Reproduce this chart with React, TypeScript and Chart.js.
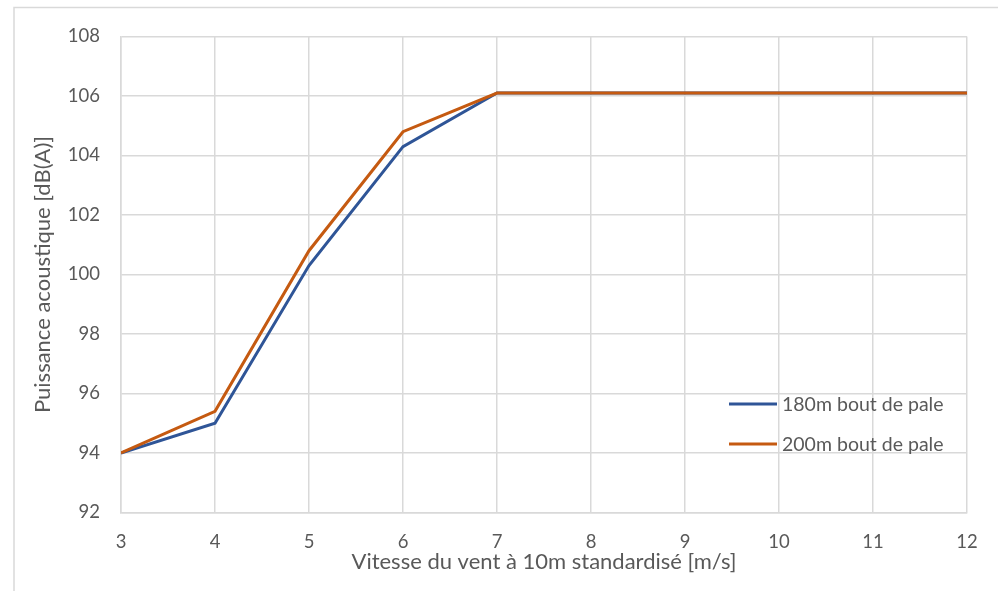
import React, { useEffect, useRef } from "react";
import { Chart, registerables } from "chart.js";

Chart.register(...registerables);

const windSpeeds = [3, 4, 5, 6, 7, 8, 9, 10, 11, 12];
const power180 = [94.0, 95.0, 100.3, 104.3, 106.1, 106.1, 106.1, 106.1, 106.1, 106.1];
const power200 = [94.0, 95.4, 100.8, 104.8, 106.1, 106.1, 106.1, 106.1, 106.1, 106.1];
const seriesLabels = ["180m bout de pale", "200m bout de pale"];
const xTitle = "Vitesse du vent à 10m standardisé [m/s]";
const yTitle = "Puissance acoustique [dB(A)]";

const FONT = "Lato, 'Open Sans', sans-serif";
const TEXT = "#595959";
const GRID = "#d9d9d9";
const BLUE = "#2f5597";
const ORANGE = "#c55a11";

const framePlugin = {
  id: "frame",
  beforeDraw(chart: any) {
    const ctx = chart.ctx;
    ctx.save();
    ctx.strokeStyle = GRID;
    ctx.lineWidth = 1.5;
    ctx.beginPath();
    ctx.moveTo(14, chart.height + 5);
    ctx.lineTo(14, 7.5);
    ctx.lineTo(chart.width + 5, 7.5);
    ctx.stroke();
    ctx.restore();
  },
};

const legendPlugin = {
  id: "insideLegend",
  afterDraw(chart: any) {
    const ctx = chart.ctx;
    const x0 = 729;
    const y0 = 404;
    const gap = 40;
    ctx.save();
    ctx.font = `19.5px ${FONT}`;
    ctx.textBaseline = "middle";
    ctx.textAlign = "left";
    chart.data.datasets.forEach((ds: any, i: number) => {
      const y = y0 + i * gap;
      ctx.strokeStyle = ds.borderColor;
      ctx.lineWidth = 3;
      ctx.beginPath();
      ctx.moveTo(x0, y);
      ctx.lineTo(x0 + 48, y);
      ctx.stroke();
      ctx.fillStyle = TEXT;
      ctx.fillText(ds.label, x0 + 53, y + 1);
    });
    ctx.restore();
  },
};

export default function App() {
  const ref = useRef<HTMLCanvasElement | null>(null);

  useEffect(() => {
    document.body.style.overflow = "hidden";
    if (!ref.current) return;
    const chart = new Chart(ref.current, {
      type: "line",
      data: {
        datasets: [
          {
            label: seriesLabels[0],
            data: windSpeeds.map((x, i) => ({ x, y: power180[i] })),
            borderColor: BLUE,
            backgroundColor: BLUE,
            borderWidth: 3,
            pointRadius: 0,
            tension: 0,
            order: 2,
          },
          {
            label: seriesLabels[1],
            data: windSpeeds.map((x, i) => ({ x, y: power200[i] })),
            borderColor: ORANGE,
            backgroundColor: ORANGE,
            borderWidth: 3,
            pointRadius: 0,
            tension: 0,
            order: 1,
          },
        ],
      },
      options: {
        animation: false,
        responsive: false,
        devicePixelRatio: 1,
        layout: { padding: { top: 36.5, right: 31, left: 0, bottom: 0 } },
        plugins: {
          legend: { display: false },
          tooltip: { enabled: false },
        },
        scales: {
          x: {
            type: "linear",
            min: 3,
            max: 12,
            ticks: {
              stepSize: 1,
              color: TEXT,
              font: { family: FONT, size: 18.5 },
              padding: 18,
              maxRotation: 0,
            },
            grid: { color: GRID, lineWidth: 1.5, drawTicks: false },
            border: { color: GRID, width: 1.5 },
            title: {
              display: true,
              text: xTitle,
              color: TEXT,
              font: { family: FONT, size: 22 },
              padding: { top: 0, bottom: 16 },
            },
            afterFit(scale: any) {
              scale.height = 78.5;
            },
          },
          y: {
            type: "linear",
            min: 92,
            max: 108,
            ticks: {
              stepSize: 2,
              color: TEXT,
              font: { family: FONT, size: 18.5 },
              padding: 21,
            },
            grid: { color: GRID, lineWidth: 1.5, drawTicks: false },
            border: { color: GRID, width: 1.5 },
            title: {
              display: true,
              text: yTitle,
              color: TEXT,
              font: { family: FONT, size: 22 },
              padding: { top: 30, bottom: 0 },
            },
            afterFit(scale: any) {
              scale.width = 121;
            },
          },
        },
      },
      plugins: [framePlugin, legendPlugin],
    } as any);
    return () => chart.destroy();
  }, []);

  return (
    <div style={{ position: "fixed", left: 0, top: 0, width: 998, height: 591, background: "#fff" }}>
      <canvas ref={ref} width={998} height={591} style={{ width: 998, height: 591, display: "block" }} />
    </div>
  );
}
